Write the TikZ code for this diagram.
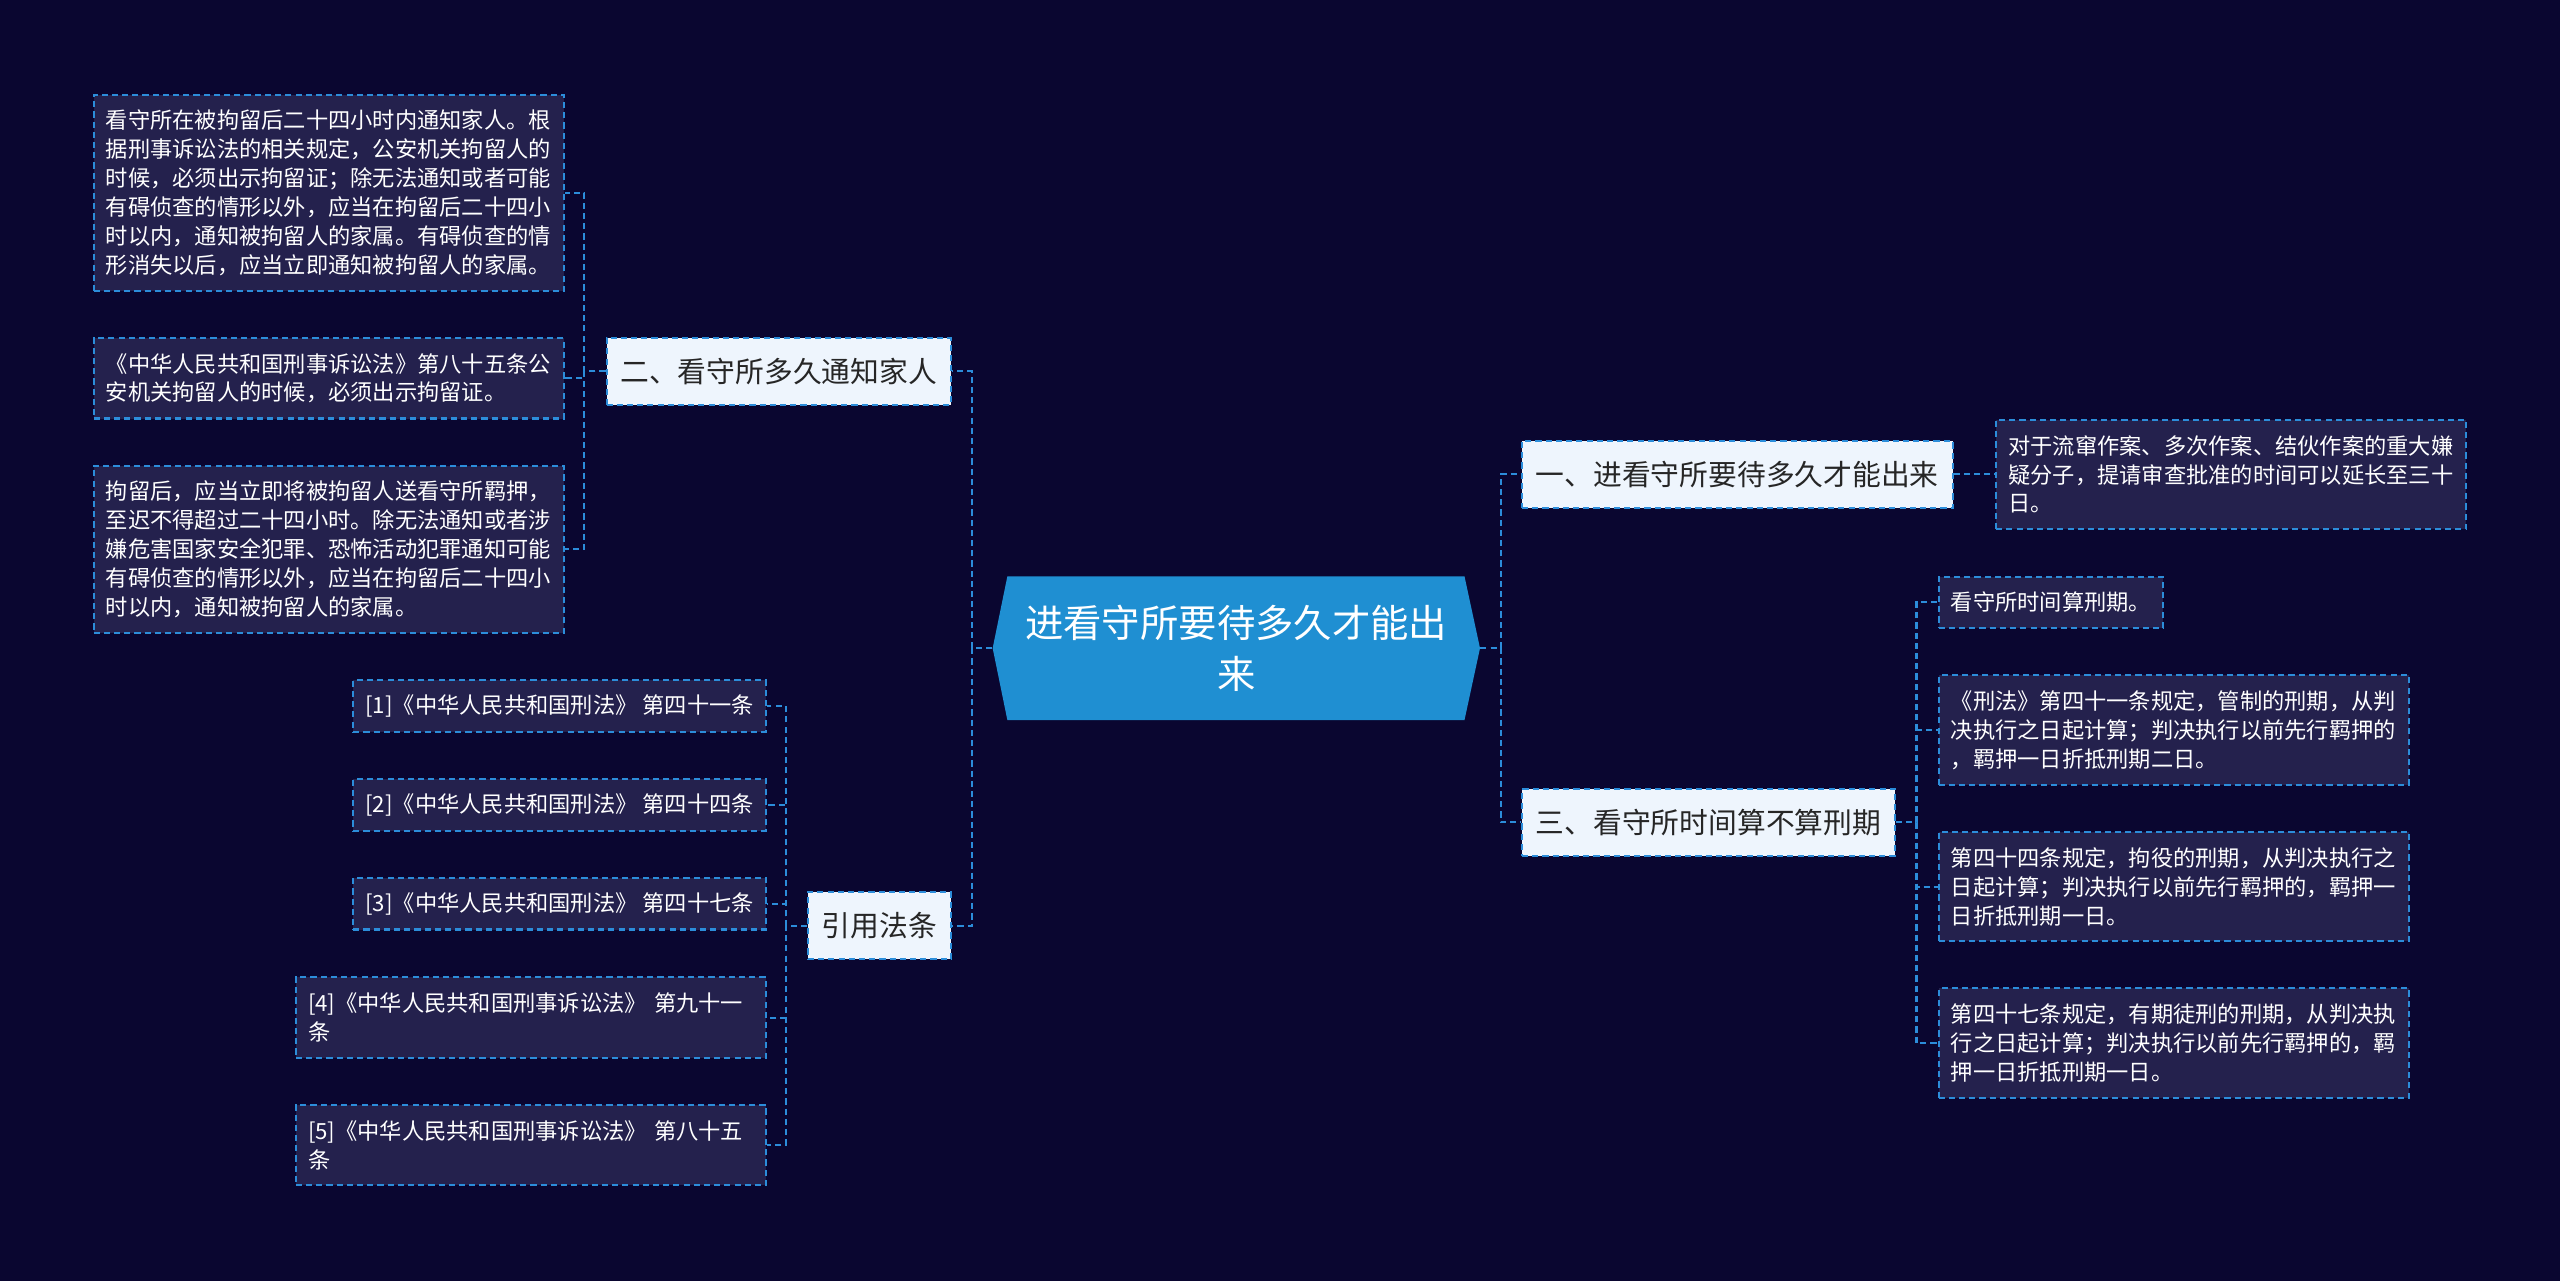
\documentclass[tikz,border=0pt]{standalone}
\usepackage{fontspec}
\setmainfont{Noto Sans CJK SC}
\usepackage{xcolor}
\definecolor{bgcol}{HTML}{0A0630}
\definecolor{leafcol}{HTML}{24214D}
\definecolor{branchcol}{HTML}{EEF5FD}
\definecolor{maincol}{HTML}{1F8FD2}
\definecolor{linecol}{HTML}{2C8DDA}
\tikzset{
	conn/.style={draw=linecol, line width=1pt, dash pattern=on 3pt off 2pt},
	central/.style={text=white, align=center, font=\fontsize{18.8pt}{25pt}\selectfont, minimum width=238.8pt, minimum height=70.4pt},
	branch/.style={conn, fill=branchcol, text=black!85, font=\fontsize{14.1pt}{17pt}\selectfont, inner xsep=6.8pt, inner ysep=0pt, minimum height=32.6pt},
	leaf/.style={conn, fill=leafcol, text=white, align=left, font=\fontsize{10.9pt}{14.16pt}\selectfont, inner xsep=6pt, inner ysep=0pt, minimum height=#1},
	leaf/.default=25.3pt,
	wide/.style={text width=218.4pt},
}

\begin{document}
\begin{tikzpicture}[x=0.8pt, y=-0.8pt]
	\useasboundingbox (0,0) rectangle (1568,784.6);
	\fill[bgcol] (0,0) rectangle (1568,784.6);

	\fill[maincol] (617,353) -- (897,353) -- (906.5,397) -- (897,441) -- (617,441) -- (608,397) -- cycle;
	\node[central] (main) at (757.2,397) {进看守所要待多久才能出\\来};

	\node[branch, anchor=east] (b2) at (583,227.5) {二、看守所多久通知家人};
	\node[branch, anchor=east] (b4) at (583,567) {引用法条};
	\node[branch, anchor=west] (b1) at (931.6,290.6) {一、进看守所要待多久才能出来};
	\node[branch, anchor=west] (b3) at (931.6,503.7) {三、看守所时间算不算刑期};

	\node[leaf=96.1pt, wide, anchor=east] (a1) at (346,118.2) {看守所在被拘留后二十四小时内通知家人。根\\据刑事诉讼法的相关规定，公安机关拘留人的\\时候，必须出示拘留证；除无法通知或者可能\\有碍侦查的情形以外，应当在拘留后二十四小\\时以内，通知被拘留人的家属。有碍侦查的情\\形消失以后，应当立即通知被拘留人的家属。};
	\node[leaf=39.4pt, wide, anchor=east] (a2) at (346,231.7) {《中华人民共和国刑事诉讼法》第八十五条公\\安机关拘留人的时候，必须出示拘留证。};
	\node[leaf=81.9pt, wide, anchor=east] (a3) at (346,336.4) {拘留后，应当立即将被拘留人送看守所羁押，\\至迟不得超过二十四小时。除无法通知或者涉\\嫌危害国家安全犯罪、恐怖活动犯罪通知可能\\有碍侦查的情形以外，应当在拘留后二十四小\\时以内，通知被拘留人的家属。};

	\node[leaf, anchor=east] (c1) at (469.8,432.5) {[1]《中华人民共和国刑法》 第四十一条};
	\node[leaf, anchor=east] (c2) at (469.8,493.1) {[2]《中华人民共和国刑法》 第四十四条};
	\node[leaf, anchor=east] (c3) at (469.8,553.5) {[3]《中华人民共和国刑法》 第四十七条};
	\node[leaf=39.4pt, wide, anchor=east] (c4) at (469.8,623.3) {[4]《中华人民共和国刑事诉讼法》 第九十一\\条};
	\node[leaf=39.4pt, wide, anchor=east] (c5) at (469.8,701.3) {[5]《中华人民共和国刑事诉讼法》 第八十五\\条};

	\node[leaf=53.6pt, wide, anchor=west] (d1) at (1222,290.6) {对于流窜作案、多次作案、结伙作案的重大嫌\\疑分子，提请审查批准的时间可以延长至三十\\日。};

	\node[leaf, anchor=west] (e1) at (1186.8,369) {看守所时间算刑期。};
	\node[leaf=53.6pt, wide, anchor=west] (e2) at (1186.8,447.1) {《刑法》第四十一条规定，管制的刑期，从判\\决执行之日起计算；判决执行以前先行羁押的\\，羁押一日折抵刑期二日。};
	\node[leaf=53.6pt, wide, anchor=west] (e3) at (1186.8,543.1) {第四十四条规定，拘役的刑期，从判决执行之\\日起计算；判决执行以前先行羁押的，羁押一\\日折抵刑期一日。};
	\node[leaf=53.6pt, wide, anchor=west] (e4) at (1186.8,638.9) {第四十七条规定，有期徒刑的刑期，从判决执\\行之日起计算；判决执行以前先行羁押的，羁\\押一日折抵刑期一日。};

	\foreach \n in {b2,b4} \draw[conn] (main.west) -- ++(-12.5,0) |- (\n.east);
	\foreach \n in {b1,b3} \draw[conn] (main.east) -- ++(12.5,0) |- (\n.west);
	\foreach \n in {a1,a2,a3} \draw[conn] (b2.west) -- ++(-13,0) |- (\n.east);
	\foreach \n in {c1,c2,c3,c4,c5} \draw[conn] (b4.west) -- ++(-13,0) |- (\n.east);
	\draw[conn] (b1.east) -- (d1.west);
	\foreach \n in {e1,e2,e3,e4} \draw[conn] (b3.east) -- ++(12.5,0) |- (\n.west);
\end{tikzpicture}
\end{document}
